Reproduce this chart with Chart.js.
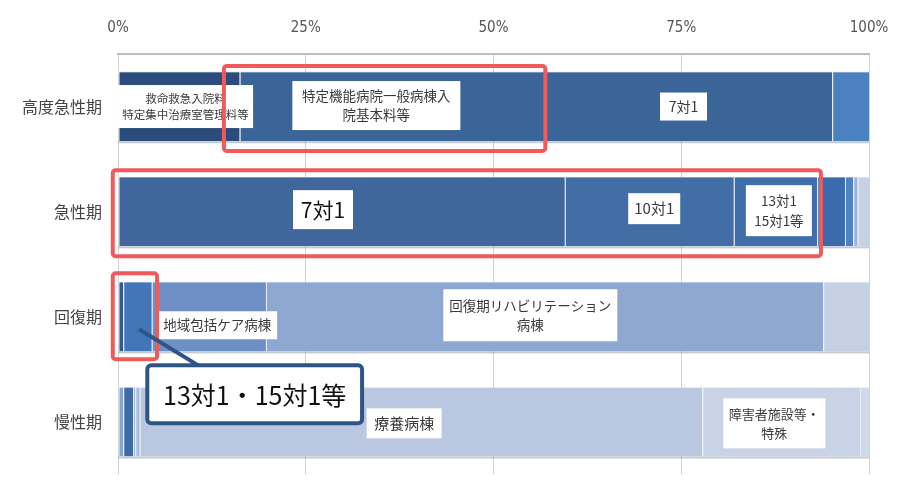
<!DOCTYPE html>
<html>
<head>
<meta charset="utf-8">
<script src="https://cdn.jsdelivr.net/npm/chart.js@4/dist/chart.umd.min.js"></script>
<style>
    html, body { margin: 0; padding: 0; background: #ffffff; overflow: hidden; }
    #wrap { width: 906px; height: 500px; }
</style>
</head>
<body>
<div id="wrap"><canvas id="beds" width="906" height="500"></canvas></div>
<script>
"use strict"
// rows of the stacked 100% bars (percent of beds per category)
const categories = ["高度急性期", "急性期", "回復期", "慢性期"];
const highAcute = [16.2, 78.9, 4.9];
const acute = [59.5, 22.5, 11.1, 3.7, 1.1, 0.6, 1.5];
const recovery = [0.7, 3.8, 15.2, 74.2, 6.1];
const chronic = [0.7, 1.3, 0.3, 0.6, 74.9, 21.0, 1.2];
const tickValues = [0, 25, 50, 75, 100];

const rowColors = [
    ["#2b4c7c", "#3b6498", "#4b80c1"],
    ["#40679c", "#426ea5", "#3f6ea9", "#3b6bac", "#4d82c4", "#9cb3da", "#c6d1e5"],
    ["#2f5b94", "#4276b8", "#6f90c6", "#8ea8d2", "#c5d0e4"],
    ["#86a5d2", "#3e6aa6", "#a0b6da", "#aabddd", "#b9c7e0", "#c8d3e7", "#d0d9ea"],
];

const rows = [highAcute, acute, recovery, chronic];
const slots = Math.max(...rows.map(r => r.length));
const datasets = [];
for (let i = 0; i < slots; i++) {
    datasets.push({
        data: rows.map(r => (r[i] === undefined ? null : r[i])),
        backgroundColor: rowColors.map(c => c[i] || "transparent"),
        borderColor: "rgba(225,232,245,0.85)",
        borderWidth: { left: 1, right: 0, top: 0, bottom: 0 },
        borderSkipped: false,
        barPercentage: 0.66,
        categoryPercentage: 1,
    });
}

// white label boxes: x in percent, dy/w/h in px around the row centre
const labels = [
    { row: 0, x: 9.0, dy: 0, w: 135, h: 43, size: 11.5, lines: ["救命救急入院料", "特定集中治療室管理料等"] },
    { row: 0, x: 34.4, dy: -1, w: 168, h: 49, size: 13.5, lines: ["特定機能病院一般病棟入", "院基本料等"] },
    { row: 0, x: 75.3, dy: 0, w: 47, h: 28, size: 14, lines: ["7対1"] },
    { row: 1, x: 27.3, dy: -2, w: 60, h: 39, size: 21, lines: ["7対1"], color: "#111111" },
    { row: 1, x: 71.4, dy: -3, w: 52, h: 31, size: 15, lines: ["10対1"] },
    { row: 1, x: 88.0, dy: -1, w: 66, h: 51, size: 13.5, lines: ["13対1", "15対1等"] },
    { row: 2, x: 13.2, dy: 8.5, w: 120, h: 28, size: 13.5, lines: ["地域包括ケア病棟"] },
    { row: 2, x: 54.9, dy: -1.5, w: 174, h: 52, size: 13.5, lines: ["回復期リハビリテーション", "病棟"] },
    { row: 3, x: 38.1, dy: 1.5, w: 75, h: 30, size: 15, lines: ["療養病棟"] },
    { row: 3, x: 87.4, dy: 1.5, w: 102, h: 50, size: 13, lines: ["障害者施設等・", "特殊"] },
];

// red highlight frames: x0/x1 in percent, top/bottom px from the row centre
const frames = [
    { row: 0, x0: 14.1, x1: 56.9, top: -40.5, bottom: 44.5 },
    { row: 1, x0: -0.7, x1: 93.6, top: -41.5, bottom: 44.5 },
    { row: 2, x0: -0.7, x1: 5.2, top: -43.5, bottom: 42.5 },
];

const callout = {
    text: "13対1・15対1等",
    from: { row: 2, x: 2.8, dy: 12.5 },
    to: { row: 3, x: 10.9, dy: -55.5 },
    box: { row: 3, x0: 3.9, x1: 32.5, top: -56.5, bottom: 1.5 },
};

const jpFont = "'Noto Sans CJK JP', 'Noto Sans', sans-serif";

function roundRect(ctx, x, y, w, h, r) {
    ctx.beginPath();
    ctx.moveTo(x + r, y);
    ctx.arcTo(x + w, y, x + w, y + h, r);
    ctx.arcTo(x + w, y + h, x, y + h, r);
    ctx.arcTo(x, y + h, x, y, r);
    ctx.arcTo(x, y, x + w, y, r);
    ctx.closePath();
}

const overlay = {
    id: "overlay",
    afterDatasetsDraw(chart) {
        const ctx = chart.ctx;
        const xs = chart.scales.x;
        const ys = chart.scales.y;
        ctx.save();

        // soft grey edge under each bar, like the office-style bevel
        chart.getDatasetMeta(0).data.forEach(bar => {
            const bottom = bar.y + bar.height / 2;
            ctx.fillStyle = "rgba(150,160,175,0.55)";
            ctx.fillRect(xs.left, bottom, xs.right - xs.left, 2);
            ctx.fillStyle = "rgba(255,255,255,0.35)";
            ctx.fillRect(xs.left, bar.y - bar.height / 2, xs.right - xs.left, 1);
        });

        labels.forEach(l => {
            const cx = xs.getPixelForValue(l.x);
            const cy = ys.getPixelForValue(l.row) + l.dy;
            ctx.fillStyle = "#ffffff";
            ctx.fillRect(cx - l.w / 2, cy - l.h / 2, l.w, l.h);
            ctx.fillStyle = l.color || "#3a3a3a";
            ctx.font = l.size + "px " + jpFont;
            ctx.textAlign = "center";
            ctx.textBaseline = "middle";
            const lh = l.size * 1.45;
            const start = cy - (l.lines.length - 1) * lh / 2;
            l.lines.forEach((t, i) => ctx.fillText(t, cx, start + i * lh));
        });

        ctx.strokeStyle = "#f15a5a";
        ctx.lineWidth = 4;
        frames.forEach(f => {
            const x0 = xs.getPixelForValue(f.x0);
            const x1 = xs.getPixelForValue(f.x1);
            const c = ys.getPixelForValue(f.row);
            roundRect(ctx, x0, c + f.top, x1 - x0, f.bottom - f.top, 3);
            ctx.stroke();
        });

        // callout line and box
        ctx.strokeStyle = "#2f5586";
        ctx.lineWidth = 4;
        ctx.beginPath();
        ctx.moveTo(xs.getPixelForValue(callout.from.x), ys.getPixelForValue(callout.from.row) + callout.from.dy);
        ctx.lineTo(xs.getPixelForValue(callout.to.x), ys.getPixelForValue(callout.to.row) + callout.to.dy);
        ctx.stroke();

        const b = callout.box;
        const bx0 = xs.getPixelForValue(b.x0);
        const bx1 = xs.getPixelForValue(b.x1);
        const bc = ys.getPixelForValue(b.row);
        roundRect(ctx, bx0, bc + b.top, bx1 - bx0, b.bottom - b.top, 4);
        ctx.fillStyle = "#ffffff";
        ctx.fill();
        ctx.stroke();
        ctx.fillStyle = "#111111";
        ctx.font = "25px " + jpFont;
        ctx.textAlign = "center";
        ctx.textBaseline = "middle";
        ctx.fillText(callout.text, (bx0 + bx1) / 2, bc + (b.top + b.bottom) / 2 + 1);

        ctx.restore();
    },
};

const bedChart = new Chart(document.getElementById("beds"), {
    type: "bar",
    plugins: [overlay],
    data: {
        labels: categories,
        datasets: datasets,
    },
    options: {
        indexAxis: "y",
        responsive: false,
        animation: false,
        layout: { padding: { left: 0, right: 37, top: 0, bottom: 1 } },
        plugins: {
            legend: { display: false },
            tooltip: { enabled: false },
        },
        scales: {
            x: {
                position: "top",
                stacked: true,
                min: 0,
                max: 100,
                afterBuildTicks: (s) => { s.ticks = tickValues.map(v => ({ value: v })); },
                afterFit: (s) => { s.height = 54; },
                grid: { color: "#d2d2d2", lineWidth: 1, drawTicks: false },
                border: { color: "#bdbdbd", width: 2 },
                ticks: {
                    padding: 17,
                    color: "#555555",
                    font: { size: 15, family: "'DejaVu Sans Condensed', 'Noto Sans', sans-serif" },
                    callback: (v) => v + "%",
                },
            },
            y: {
                stacked: true,
                afterFit: (s) => { s.width = 118; },
                grid: { display: false, drawTicks: false },
                border: { display: false },
                ticks: {
                    padding: 16,
                    color: "#444444",
                    font: { size: 16, family: jpFont },
                },
            },
        },
    },
});
</script>
</body>
</html>
